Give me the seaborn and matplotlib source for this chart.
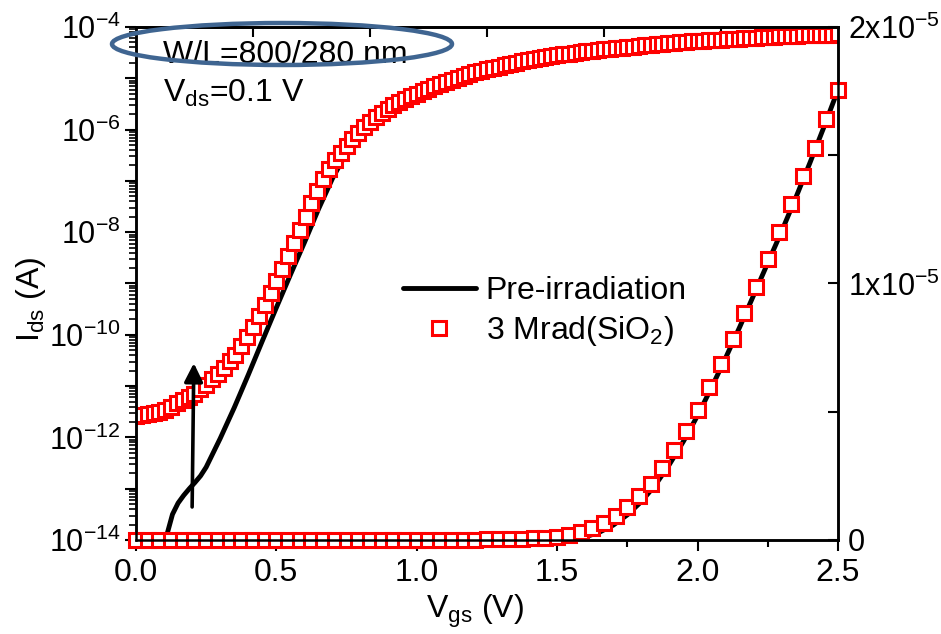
import numpy as np
import pandas as pd
import matplotlib
matplotlib.use("Agg")
import matplotlib.pyplot as plt
import matplotlib.ticker as mticker
from matplotlib.patches import Ellipse
from matplotlib.lines import Line2D
import seaborn as sns

# ---- data ----
# 3 Mrad(SiO2), log scale (left axis), Vgs step 2.5/120 V, values as log10(Ids)
vgs_log = np.linspace(0, 2.5, 121)
irr_log_exp = [
    -11.58, -11.57, -11.55, -11.53, -11.50, -11.46, -11.40, -11.33, -11.27, -11.21,
    -11.15, -11.06, -10.97, -10.87, -10.76, -10.65, -10.52, -10.39, -10.22, -10.04,
    -9.84, -9.63, -9.41, -9.18, -8.95, -8.71, -8.47, -8.22, -7.96, -7.70,
    -7.44, -7.19, -6.96, -6.76, -6.60, -6.45, -6.31, -6.18, -6.06, -5.95,
    -5.85, -5.76, -5.67, -5.59, -5.52, -5.46, -5.40, -5.35, -5.30, -5.25,
    -5.20, -5.15, -5.11, -5.07, -5.03, -4.99, -4.95, -4.91, -4.88, -4.85,
    -4.82, -4.79, -4.77, -4.74, -4.72, -4.70, -4.67, -4.65, -4.63, -4.61,
    -4.59, -4.57, -4.55, -4.53, -4.52, -4.50, -4.49, -4.47, -4.46, -4.45,
    -4.43, -4.42, -4.41, -4.40, -4.39, -4.38, -4.37, -4.36, -4.35, -4.34,
    -4.33, -4.32, -4.31, -4.30, -4.29, -4.28, -4.27, -4.265, -4.26, -4.25,
    -4.245, -4.24, -4.23, -4.225, -4.22, -4.21, -4.205, -4.20, -4.195, -4.19,
    -4.185, -4.18, -4.175, -4.17, -4.165, -4.16, -4.16, -4.155, -4.15, -4.15,
    -4.145,
]

# Pre-irradiation, log scale
vgs_pre_log = [0.100, 0.105, 0.115, 0.13, 0.15, 0.17, 0.19, 0.21, 0.23, 0.25,
               0.275, 0.30, 0.325, 0.35, 0.40, 0.45, 0.50, 0.55, 0.60, 0.65,
               0.70, 0.75, 0.80, 0.85, 0.90, 1.00, 1.20, 1.50, 2.00, 2.50]
pre_log_exp = [-14.1, -14.0, -13.8, -13.5, -13.28, -13.13, -13.0, -12.88, -12.75, -12.58,
               -12.3, -12.02, -11.72, -11.42, -10.78, -10.12, -9.47, -8.83, -8.2, -7.55,
               -6.95, -6.45, -6.08, -5.8, -5.57, -5.3, -4.88, -4.55, -4.27, -4.145]

# 3 Mrad(SiO2), linear scale (right axis), Vgs step 2.5/60 V, Ids in uA
vgs_lin = np.linspace(0, 2.5, 61)
irr_lin_ua = [
    0, 0, 0, 0, 0, 0, 0, 0, 0, 0,
    0, 0, 0, 0, 0, 0, 0, 0, 0, 0,
    0, 0, 0, 0, 0, 0, 0, 0, 0.01, 0.015,
    0.02, 0.03, 0.04, 0.05, 0.07, 0.09, 0.13, 0.2, 0.31, 0.46,
    0.66, 0.94, 1.29, 1.7, 2.2, 2.8, 3.5, 4.25, 5.07, 5.95,
    6.88, 7.85, 8.85, 9.88, 10.95, 12.0, 13.1, 14.2, 15.3, 16.4,
    17.55,
]

# Pre-irradiation, linear scale
vgs_pre_lin = [0.0, 1.5, 1.55, 1.6, 1.65, 1.7, 1.75, 1.8, 1.85, 1.9, 1.95,
               2.0, 2.05, 2.1, 2.15, 2.2, 2.25, 2.3, 2.35, 2.4, 2.45, 2.5]
pre_lin_ua = [0.0, 0.0, 0.03, 0.12, 0.3, 0.58, 0.98, 1.5, 2.15, 2.95, 3.85,
              4.85, 5.95, 7.1, 8.3, 9.55, 10.8, 12.05, 13.35, 14.7, 16.1, 17.55]

df_irr_log = pd.DataFrame({"vgs": vgs_log, "ids": 10.0 ** np.array(irr_log_exp)})
df_pre_log = pd.DataFrame({"vgs": vgs_pre_log, "ids": 10.0 ** np.array(pre_log_exp)})
df_irr_lin = pd.DataFrame({"vgs": vgs_lin, "ids": np.array(irr_lin_ua) * 1e-6})
df_pre_lin = pd.DataFrame({"vgs": vgs_pre_lin, "ids": np.array(pre_lin_ua) * 1e-6})

# ---- style ----
sns.set_style("ticks")
plt.rcParams["font.family"] = ["Liberation Sans", "DejaVu Sans"]
plt.rcParams["mathtext.fontset"] = "custom"
plt.rcParams["mathtext.rm"] = "Liberation Sans"
plt.rcParams["mathtext.it"] = "Liberation Sans"
for key in ("text.color", "axes.labelcolor", "xtick.color", "ytick.color",
            "axes.edgecolor"):
    plt.rcParams[key] = "black"
FS = 23
FS_Y = 22
RED = "#ff0000"

fig = plt.figure(figsize=(9.41, 6.34), dpi=100)
ax = fig.add_axes([0.1445, 0.1483, 0.746, 0.8091])
ax2 = ax.twinx()

mk = dict(marker="s", markersize=9.5, markerfacecolor="white",
          markeredgecolor=RED, markeredgewidth=2.2, linestyle="")

# log axis
sns.lineplot(data=df_pre_log, x="vgs", y="ids", ax=ax, color="black",
             linewidth=3.5, estimator=None, sort=False, legend=False)
sns.lineplot(data=df_irr_log, x="vgs", y="ids", ax=ax, color=RED,
             estimator=None, sort=False, legend=False, **mk)
ax.set_yscale("log")
ax.set_ylim(1e-14, 1e-4)
ax.set_xlim(0, 2.5)

# linear axis
sns.lineplot(data=df_pre_lin, x="vgs", y="ids", ax=ax2, color="black",
             linewidth=3.5, estimator=None, sort=False, legend=False)
sns.lineplot(data=df_irr_lin, x="vgs", y="ids", ax=ax2, color=RED,
             estimator=None, sort=False, legend=False, **mk)
for ln in ax2.lines[1:]:
    ln.set_clip_on(False)
ax2.set_ylim(0, 2e-5)

# ticks, left
ax.yaxis.set_major_locator(mticker.FixedLocator(10.0 ** np.arange(-14, -3)))
ax.yaxis.set_minor_locator(mticker.LogLocator(base=10, subs=np.arange(2, 10), numticks=30))


def log_fmt(v, pos):
    e = int(round(np.log10(v)))
    return r"$\mathregular{10^{%d}}$" % e if e % 2 == 0 else ""


ax.yaxis.set_major_formatter(mticker.FuncFormatter(log_fmt))
ax.yaxis.set_minor_formatter(mticker.NullFormatter())
ax.tick_params(axis="y", which="major", direction="out", length=8, width=1.5,
               labelsize=FS_Y, pad=3)
ax.tick_params(axis="y", which="minor", direction="out", length=5, width=1.2)

# ticks, bottom
ax.xaxis.set_major_locator(mticker.MultipleLocator(0.5))
ax.xaxis.set_minor_locator(mticker.MultipleLocator(0.25))
ax.xaxis.set_major_formatter(mticker.FormatStrFormatter("%.1f"))
ax.tick_params(axis="x", which="major", direction="out", length=8, width=1.5,
               labelsize=FS, pad=5)
ax.tick_params(axis="x", which="minor", direction="out", length=5, width=1.5)

# ticks, top (inward)
top = ax.secondary_xaxis("top")
top.set_xticks(np.arange(1, 6) * 2.5 / 6)
top.tick_params(direction="in", length=7, width=1.5, labeltop=False)

# ticks, right
ax2.yaxis.set_major_locator(mticker.FixedLocator([0, 1e-5, 2e-5]))
ax2.yaxis.set_minor_locator(mticker.FixedLocator([5e-6, 1.5e-5]))
ax2.yaxis.set_major_formatter(mticker.FixedFormatter(
    ["0", r"$\mathregular{1x10^{-5}}$", r"$\mathregular{2x10^{-5}}$"]))
ax2.tick_params(axis="y", which="both", direction="in", length=7, width=1.5,
                labelsize=FS_Y, pad=7)

for a in (ax, ax2):
    for s in a.spines.values():
        s.set_linewidth(1.8)
top.spines["top"].set_linewidth(1.8)

ax.set_xlabel(r"$\mathregular{V_{gs}}$ (V)", fontsize=FS)
ax.xaxis.set_label_coords(0.483, -0.102)
ax.set_ylabel(r"$\mathregular{I_{ds}}$ (A)", fontsize=FS)
ax.yaxis.set_label_coords(-0.125, 0.47)
ax2.set_ylabel("")
ax2.set_xlabel("")

# arrow: irradiation shift of the off current
ax.annotate("", xy=(0.206, 2.8e-11), xytext=(0.2, 4.4e-14),
            arrowprops=dict(arrowstyle="-|>", lw=2.6, color="black",
                            mutation_scale=28, shrinkA=0, shrinkB=0))

# legend
handles = [Line2D([], [], color="black", lw=3.5),
           Line2D([], [], **mk)]
ax.legend(handles, ["Pre-irradiation", r"3 Mrad(SiO$\mathregular{_2}$)"],
          loc="upper left", bbox_to_anchor=(0.38, 0.515), frameon=False,
          fontsize=FS, handlelength=2.3, handletextpad=0.3, labelspacing=0.25,
          borderaxespad=0, borderpad=0)

# annotation text and ellipse
fig.text(163 / 941, 1 - 63 / 634, "W/L=800/280 nm", fontsize=FS, va="baseline")
fig.text(163 / 941, 1 - 102 / 634, r"$\mathregular{V_{ds}}$=0.1 V", fontsize=FS,
         va="baseline")
fig.add_artist(Ellipse((282 / 941, 1 - 44 / 634), 340 / 941, 42 / 634,
                       transform=fig.transFigure, fill=False,
                       edgecolor="#3f6591", linewidth=3.2, zorder=10))

fig.savefig("out.png", dpi=100)
